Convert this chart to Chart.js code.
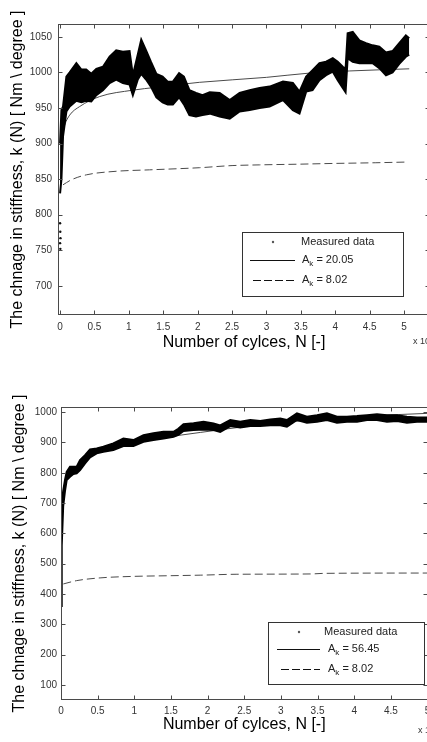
<!DOCTYPE html>
<html><head><meta charset="utf-8">
<script src="https://cdn.jsdelivr.net/npm/chart.js@4/dist/chart.umd.min.js"></script>
<style>
html,body{margin:0;padding:0;background:#fff;width:427px;height:742px;overflow:hidden;}
.wrap{position:absolute;left:0;}
</style></head><body>
<div class="wrap" style="top:0"><canvas id="c1" width="440" height="370" style="width:440px;height:370px"></canvas></div>
<div class="wrap" style="top:370px"><canvas id="c2" width="440" height="372" style="width:440px;height:372px"></canvas></div>
<script>
// ---------- shared text ----------
const yTitle = 'The chnage in stiffness, k (N) [ Nm \\ degree ]';
const xTitle = 'Number of cylces, N [-]';
const xTicks = [0, 5000, 10000, 15000, 20000, 25000, 30000, 35000, 40000, 45000, 50000];

// ---------- top chart data ----------
const topYTicks = [700, 750, 800, 850, 900, 950, 1000, 1050];
const topLabels = ['Measured data', 'A_k = 20.05', 'A_k = 8.02'];
const topMeasN = [0, 200, 430, 920, 1400, 2370, 3100, 3800, 4540, 5270, 6230, 7200, 8160, 9130, 10100, 10580, 11300, 11800, 12500, 13200, 14000, 14900, 15650, 16400, 17300, 18000, 18800, 19760, 20700, 21760, 23200, 24660, 26100, 27560, 29000, 30460, 32400, 33840, 34800, 35770, 36700, 37700, 38670, 39640, 40360, 41090, 41500, 41800, 42540, 43500, 44470, 45430, 46400, 47370, 48330, 49300, 50260, 50750];
const topMeasHigh = [900, 947, 952, 994, 1000, 1013, 1004, 1004, 998, 1005, 1008, 1022, 1031, 1029, 1030, 996, 1025, 1046, 1031, 1015, 998, 994, 987, 987, 999, 994, 975, 971, 968, 972, 971, 961, 971, 975, 978, 980, 987, 985, 973, 994, 1003, 1013, 1015, 1020, 1015, 1008, 1005, 1055, 1057, 1045, 1041, 1038, 1036, 1028, 1030, 1041, 1052, 1048];
const topMeasLow = [830, 850, 910, 945, 952, 960, 958, 960, 959, 968, 975, 985, 990, 985, 983, 968, 990, 998, 990, 980, 965, 958, 955, 955, 965, 955, 940, 938, 940, 942, 938, 935, 945, 947, 950, 952, 961, 947, 942, 973, 975, 989, 996, 1001, 989, 978, 972, 1020, 1015, 1013, 1013, 1013, 1006, 996, 1000, 1012, 1022, 1025];
const topOutN = [0, 30, 60, 0, 40];
const topOutK = [788, 776, 767, 760, 752];
const topFitN = [400, 676, 1400, 2850, 5750, 10580, 13960, 20240, 29980, 36260, 42050, 50750];
const topFitK = [915, 926, 940, 952, 966, 975, 979, 986, 993, 999, 1002, 1005];
const topDashN = [430, 1640, 3820, 8160, 12990, 20240, 25000, 29000, 34800, 39640, 45900, 50500];
const topDashK = [842, 849, 856, 861, 863, 866, 869, 870, 871, 872, 873, 874];

// ---------- bottom chart data ----------
const botYTicks = [100, 200, 300, 400, 500, 600, 700, 800, 900, 1000];
const botLabels = ['Measured data', 'A_k = 56.45', 'A_k = 8.02'];
const botMeasN = [0, 100, 300, 546, 774, 1230, 1690, 2140, 2600, 3280, 3960, 4870, 5780, 7140, 8510, 9880, 11250, 12610, 13980, 15350, 16000, 16710, 18080, 19450, 20810, 21720, 23090, 24450, 25820, 27180, 28550, 29910, 30820, 32190, 33550, 34920, 36280, 37650, 39010, 40380, 41740, 43110, 44470, 45840, 47200, 48570, 50000];
const botMeasHigh = [620, 700, 740, 776, 803, 820, 820, 820, 842, 858, 877, 880, 886, 897, 913, 908, 924, 930, 935, 935, 945, 960, 963, 968, 963, 956, 974, 968, 974, 971, 976, 979, 974, 996, 985, 990, 996, 985, 985, 987, 990, 993, 990, 990, 985, 982, 982];
const botMeasLow = [360, 560, 690, 740, 776, 787, 796, 798, 809, 831, 851, 864, 869, 875, 888, 888, 902, 908, 913, 919, 925, 938, 941, 943, 941, 935, 954, 949, 954, 954, 957, 957, 952, 974, 965, 968, 974, 965, 968, 968, 974, 974, 968, 971, 965, 968, 968];
const botFitN = [150, 500, 1000, 1700, 2500, 3500, 5000, 7000, 10000, 14000, 19000, 25000, 32000, 40000, 46000, 50000];
const botFitK = [700, 765, 795, 812, 830, 851, 868, 884, 900, 916, 933, 952, 970, 985, 992, 996];
const botDashN = [320, 2140, 5330, 9880, 14440, 18990, 24000, 34000, 36000, 50000];
const botDashK = [433, 444, 453, 458, 460, 462, 465, 466, 468, 469];

// ---------- helpers ----------
const pts = (xs, ys) => xs.map((v, i) => ({x: v, y: ys[i]}));
const TICKFONT = "'Liberation Sans Narrow', 'Arial Narrow', 'Liberation Sans', Arial, sans-serif";
const SANS = "'Liberation Sans', Arial, sans-serif";

const frameTicks = {
  id: 'frameTicks',
  afterDatasetsDraw(chart) {
    const {ctx, chartArea: a, scales: {x, y}} = chart;
    ctx.save();
    ctx.strokeStyle = '#4a4a4a'; ctx.lineWidth = 1;
    const L = Math.round(a.left) + 0.5, R = Math.round(a.right) - 0.5, T = Math.round(a.top) + 0.5, B = Math.round(a.bottom) - 0.5;
    ctx.strokeRect(L, T, R - L, B - T);
    ctx.beginPath();
    x.ticks.forEach(t => { const p = Math.round(x.getPixelForValue(t.value)) + 0.5; ctx.moveTo(p, B); ctx.lineTo(p, B - 4); ctx.moveTo(p, T); ctx.lineTo(p, T + 4); });
    y.ticks.forEach(t => { const p = Math.round(y.getPixelForValue(t.value)) + 0.5; ctx.moveTo(L, p); ctx.lineTo(L + 4, p); ctx.moveTo(R, p); ctx.lineTo(R - 4, p); });
    ctx.stroke();
    ctx.restore();
  }
};

function drawSubText(ctx, text, x, y) {
  const m = text.match(/^(.*?)_(\w)(.*)$/);
  ctx.font = '11px ' + SANS;
  ctx.textBaseline = 'middle'; ctx.textAlign = 'left';
  if (!m) { ctx.fillText(text, x, y); return; }
  ctx.fillText(m[1], x, y); x += ctx.measureText(m[1]).width;
  ctx.font = '8px ' + SANS; ctx.fillText(m[2], x, y + 4); x += ctx.measureText(m[2]).width;
  ctx.font = '11px ' + SANS; ctx.fillText(m[3], x, y);
}

const boxLegend = {
  id: 'boxLegend',
  afterDraw(chart, args, o) {
    const ctx = chart.ctx; const ds = chart.data.datasets;
    const [bx, by, bw, bh] = o.box;
    ctx.save();
    ctx.fillStyle = '#fff'; ctx.fillRect(bx, by, bw, bh);
    ctx.strokeStyle = '#333'; ctx.lineWidth = 1; ctx.strokeRect(bx + 0.5, by + 0.5, bw, bh);
    ctx.fillStyle = '#555'; ctx.beginPath(); ctx.arc(bx + o.r1[1], by + o.r1[0], 1.2, 0, Math.PI * 2); ctx.fill();
    ctx.fillStyle = '#222'; drawSubText(ctx, ds[0].label, bx + o.r1[2], by + o.r1[0]);
    ctx.strokeStyle = '#111'; ctx.lineWidth = 1; ctx.setLineDash([]);
    ctx.beginPath(); ctx.moveTo(bx + o.r2[1], by + o.r2[0] + 0.5); ctx.lineTo(bx + o.r2[2], by + o.r2[0] + 0.5); ctx.stroke();
    drawSubText(ctx, ds[2].label, bx + o.r2[3], by + o.r2[0]);
    ctx.setLineDash([8, 3]);
    ctx.beginPath(); ctx.moveTo(bx + o.r3[1], by + o.r3[0] + 0.5); ctx.lineTo(bx + o.r3[2], by + o.r3[0] + 0.5); ctx.stroke();
    ctx.setLineDash([]);
    drawSubText(ctx, ds[3].label, bx + o.r3[3], by + o.r3[0]);
    ctx.restore();
  }
};

const multiplier = {
  id: 'multiplier',
  afterDraw(chart, args, o) {
    const ctx = chart.ctx, a = chart.chartArea;
    ctx.save();
    ctx.fillStyle = '#333'; ctx.textAlign = 'left'; ctx.textBaseline = 'middle';
    ctx.font = '9px ' + TICKFONT;
    const x = a.right + o.dx, y = a.bottom + o.dy;
    ctx.fillText('x 10', x, y);
    const w = ctx.measureText('x 10').width;
    ctx.font = '7px ' + TICKFONT;
    ctx.fillText('4', x + w + 0.5, y - 5);
    ctx.restore();
  }
};

function makeChart(id, cfg) {
  return new Chart(document.getElementById(id), {
    type: 'line',
    data: {
      datasets: [
        {label: cfg.labels[0], data: pts(cfg.measN, cfg.measHigh), borderColor: '#000', backgroundColor: '#000', borderWidth: 2, pointRadius: 0, fill: '+1'},
        {label: 'lower', data: pts(cfg.measN, cfg.measLow), borderColor: '#000', borderWidth: 2, pointRadius: 0, fill: false},
        {label: cfg.labels[1], data: pts(cfg.fitN, cfg.fitK), borderColor: '#4a4a4a', borderWidth: 1, pointRadius: 0, fill: false, cubicInterpolationMode: 'monotone'},
        {label: cfg.labels[2], data: pts(cfg.dashN, cfg.dashK), borderColor: '#4a4a4a', borderWidth: 1, borderDash: [8, 4], pointRadius: 0, fill: false, cubicInterpolationMode: 'monotone'},
        {label: 'scatter', data: pts(cfg.outN, cfg.outK), showLine: false, pointRadius: 1.2, pointBackgroundColor: '#111', pointBorderWidth: 0}
      ]
    },
    options: {
      responsive: false, animation: false, devicePixelRatio: 1,
      layout: {padding: cfg.pad},
      plugins: {legend: {display: false}, tooltip: {enabled: false},
        boxLegend: cfg.legend, multiplier: cfg.mult},
      scales: {
        x: {type: 'linear', min: cfg.xmin, max: cfg.xmax,
          afterBuildTicks: s => { s.ticks = xTicks.map(v => ({value: v})); },
          afterFit: s => { s.height = cfg.xh; },
          grid: {display: false, drawTicks: false}, border: {display: false},
          ticks: {autoSkip: false, maxRotation: 0, padding: cfg.xtpad, color: '#333', font: {family: TICKFONT, size: 10}, callback: v => String(v / 10000)},
          title: {display: true, text: xTitle, color: '#000', font: {family: SANS, size: 16}, padding: {top: 0, bottom: cfg.xtitlePad}}
        },
        y: {type: 'linear', min: cfg.ymin, max: cfg.ymax,
          afterBuildTicks: s => { s.ticks = cfg.yTicks.map(v => ({value: v})); },
          afterFit: s => { s.width = cfg.yw; },
          grid: {display: false, drawTicks: false}, border: {display: false},
          ticks: {autoSkip: false, padding: cfg.ytpad, color: '#333', font: {family: TICKFONT, size: 10}, callback: v => String(v)},
          title: {display: true, text: yTitle, color: '#000', font: {family: SANS, size: 16}, padding: {top: cfg.ytitlePad, bottom: 0}}
        }
      }
    },
    plugins: [frameTicks, boxLegend, multiplier]
  });
}

makeChart('c1', {
  labels: topLabels, measN: topMeasN, measHigh: topMeasHigh, measLow: topMeasLow,
  fitN: topFitN, fitK: topFitK, dashN: topDashN, dashK: topDashK, outN: topOutN, outK: topOutK,
  yTicks: topYTicks, xmin: -300, xmax: 53770, ymin: 659, ymax: 1068,
  pad: {left: 0, top: 24, right: 10, bottom: 0}, yw: 58, xh: 55, xtpad: 6, ytpad: 6, xtitlePad: 18, ytitlePad: 7.5,
  legend: {box: [242, 232, 161, 64], r1: [10, 31, 59], r2: [28, 8, 53, 60], r3: [48, 11, 54, 60]},
  mult: {dx: -17, dy: 27}
});

makeChart('c2', {
  labels: botLabels, measN: botMeasN, measHigh: botMeasHigh, measLow: botMeasLow,
  fitN: botFitN, fitK: botFitK, dashN: botDashN, dashK: botDashK, outN: [], outK: [],
  yTicks: botYTicks, xmin: 0, xmax: 50000, ymin: 50, ymax: 1017,
  pad: {left: 0, top: 37, right: 12.5, bottom: 0}, yw: 61, xh: 42, xtpad: 5, ytpad: 4, xtitlePad: 8, ytitlePad: 10,
  legend: {box: [268, 252, 156, 62], r1: [10, 31, 56], r2: [27, 9, 52, 60], r3: [47, 13, 52, 60]},
  mult: {dx: -9.5, dy: 31}
});
</script>
</body></html>
